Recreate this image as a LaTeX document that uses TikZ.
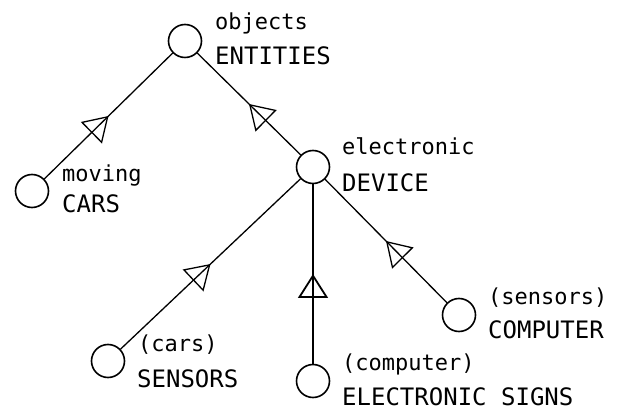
\documentclass[tikz,border=0pt]{standalone}
\usepackage{fontspec}
\setmonofont{DejaVu Sans Mono}
\usetikzlibrary{arrows.meta,decorations.markings}

\begin{document}
\begin{tikzpicture}[x=1pt,y=-1pt,
      class/.style={draw, circle, line width=1.6pt, minimum size=33pt,
        inner sep=0pt},
      role/.style={font=\fontsize{22}{26}\selectfont\ttfamily,
        anchor=base west, inner sep=0pt},
      kind/.style={font=\fontsize{24}{28}\selectfont\ttfamily,
        anchor=base west, inner sep=0pt},
      isa/.style={line width=1.3pt, postaction={decorate},
        decoration={markings, mark=at position .5 with
          {\arrow{Triangle[open,length=24pt,width=30pt]}}}}]
      \useasboundingbox (0,0) rectangle (634,419);

      % classes
      \node[class] (entities) at (185,41) {};
      \node[class] (cars) at (32,191) {};
      \node[class] (device) at (313,167) {};
      \node[class] (sensors) at (108,361) {};
      \node[class] (signs) at (313,381) {};
      \node[class] (computer) at (459,315) {};

      % labels
      \node[role] (entitiesRole) at (215,30) {objects};
      \node[kind] (entitiesKind) at (215,65) {ENTITIES};
      \node[role] (carsRole) at (62,182) {moving};
      \node[kind] (carsKind) at (62,213) {CARS};
      \node[role] (deviceRole) at (342,155) {electronic};
      \node[kind] (deviceKind) at (342,192) {DEVICE};
      \node[role] (sensorsRole) at (138,352) {(cars)};
      \node[kind] (sensorsKind) at (137,387) {SENSORS};
      \node[role] (computerRole) at (488,305) {(sensors)};
      \node[kind] (computerKind) at (488,338) {COMPUTER};
      \node[role] (signsRole) at (342,370) {(computer)};
      \node[kind] (signsKind) at (342,405) {ELECTRONIC SIGNS};

      % generalisations
      \draw[isa] (cars) -- (entities);
      \draw[isa] (device) -- (entities);
      \draw[isa] (sensors) -- (device);
      \draw[isa, line width=1.8pt] (signs) -- (device);
      \draw[isa] (computer) -- (device);
    \end{tikzpicture}
\end{document}
